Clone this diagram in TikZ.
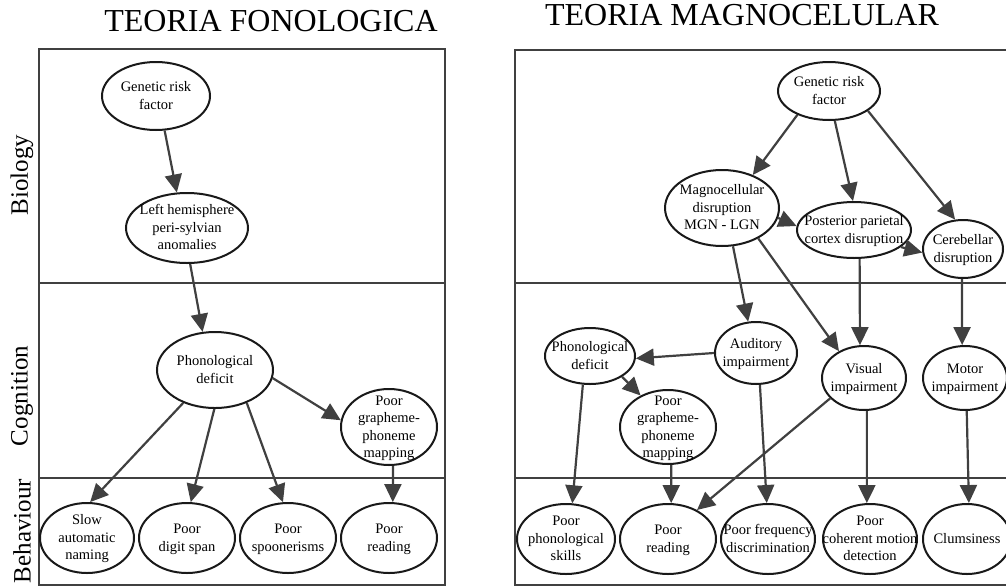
\documentclass[tikz,border=0pt]{standalone}
\usepackage{fontspec}
\setmainfont{Liberation Serif}
\usetikzlibrary{shapes.geometric,arrows.meta}
\newcommand\ot[1]{\raisebox{-0.3em}[0pt][0pt]{\makebox[0pt]{\begin{tabular}{@{}c@{}}#1\end{tabular}}}}
\begin{document}
\begin{tikzpicture}[x=1pt,y=-1pt,
 ov/.style args={#1/#2}{ellipse, draw=black!90, line width=2pt, minimum width=#1pt, minimum height=#2pt, inner sep=0pt, font=\fontsize{14.5}{17.5}\selectfont, fill=white},
 ar/.style={draw=black!75, line width=2.2pt, -{Triangle[length=18pt,width=17pt]}},
 frame/.style={draw=black!75, line width=2pt},
 ttl/.style={font=\fontsize{32}{36}\selectfont, inner sep=0pt},
 lvl/.style={font=\fontsize{25}{28}\selectfont, rotate=90, inner sep=0pt}]
\useasboundingbox (0,0) rectangle (1006,587);
% frames
\draw[frame] (39,49) rectangle (445,585);
\draw[frame] (39,283) -- (445,283);
\draw[frame] (39,478) -- (445,478);
\draw[frame] (1012,50) -- (515,50) -- (515,585) -- (1012,585);
\draw[frame] (515,283) -- (1012,283);
\draw[frame] (515,478) -- (1012,478);
% titles and level labels
\node[ttl] (t1) at (271,21) {TEORIA FONOLOGICA};
\node[ttl] (t2) at (742,15) {TEORIA MAGNOCELULAR};
\node[lvl] (lb) at (22,175) {Biology};
\node[lvl] (lc) at (22,396) {Cognition};
\node[lvl] (lbh) at (22,531) {Behaviour};
% left nodes
\node[ov=108/68] (lg) at (156,96) {\ot{Genetic risk\\factor}};
\node[ov=122/70] (lh) at (187,228) {\ot{Left hemisphere\\peri-sylvian\\anomalies}};
\node[ov=116/76] (lp) at (215,370) {\ot{Phonological\\deficit}};
\node[ov=96/76] (lm) at (389,427) {\ot{Poor\\grapheme-\\phoneme\\mapping}};
\node[ov=94/70] (ls) at (87,538) {\ot{Slow\\automatic\\naming}};
\node[ov=96/70] (ld) at (187,538) {\ot{Poor\\digit span}};
\node[ov=96/70] (lsp) at (288,538) {\ot{Poor\\spoonerisms}};
\node[ov=96/70] (lr) at (389,538) {\ot{Poor\\reading}};
% right nodes
\node[ov=102/58] (rg) at (829,91) {\ot{Genetic risk\\factor}};
\node[ov=114/76] (rmag) at (722,208) {\ot{Magnocellular\\disruption\\MGN - LGN}};
\node[ov=114/56] (rppc) at (854,230) {\ot{Posterior parietal\\cortex disruption}};
\node[ov=80/58] (rc) at (963,249) {\ot{Cerebellar\\disruption}};
\node[ov=90/56] (rp) at (590,356) {\ot{Phonological\\deficit}};
\node[ov=82/62] (ra) at (756,353) {\ot{Auditory\\impairment}};
\node[ov=84/64] (rv) at (864,378) {\ot{Visual\\impairment}};
\node[ov=84/64] (rmo) at (965,378) {\ot{Motor\\impairment}};
\node[ov=96/74] (rm) at (668,427) {\ot{Poor\\grapheme-\\phoneme\\mapping}};
\node[ov=98/70] (rps) at (566,539) {\ot{Poor\\phonological\\skills}};
\node[ov=96/70] (rr) at (668,539) {\ot{Poor\\reading}};
\node[ov=94/70] (rf) at (768,539) {\ot{Poor frequency\\discrimination}};
\node[ov=94/70] (rcm) at (870,539) {\ot{Poor\\coherent motion\\detection}};
\node[ov=88/70] (rcl) at (967,539) {\ot{Clumsiness}};
% left arrows
\draw[ar] (lg.-76) -- (lh.106);
\draw[ar] (lh.-85) -- (lp.108);
\draw[ar] (lp.-134) -- (ls.85);
\draw[ar] (lp.-91) -- (ld.84);
\draw[ar] (lp.-46) -- (lsp.98);
\draw[ar] (lp.-8) -- (lm.172);
\draw[ar] (lm.-84) -- (lr.84);
% right arrows
\draw[ar] (rg.-143) -- (rmag.47);
\draw[ar] (rg.-79) -- (rppc.92);
\draw[ar] (rg.-27) -- (rc.105);
\draw[ar] (rmag.-10) -- (rppc.176);
\draw[ar] (rppc.-20) -- (rc.185);
\draw[ar] (rmag.-74) -- (ra.104);
\draw[ar] (rmag.-40) -- (rv.133);
\draw[ar] (rppc.-79) -- (rv.97);
\draw[ar] (rc.-92) -- (rmo.95);
\draw[ar] (ra.180) -- (rp.-3);
\draw[ar] (rp.-33) -- (rm.131);
\draw[ar] (rp.-104) -- (rps.80);
\draw[ar] (rm.-85) -- (rr.85);
\draw[ar] (rv.-149) -- (rr.45);
\draw[ar] (ra.-83) -- (rf.92);
\draw[ar] (rv.-85) -- (rcm.95);
\draw[ar] (rmo.-87) -- (rcl.87);
\end{tikzpicture}
\end{document}
